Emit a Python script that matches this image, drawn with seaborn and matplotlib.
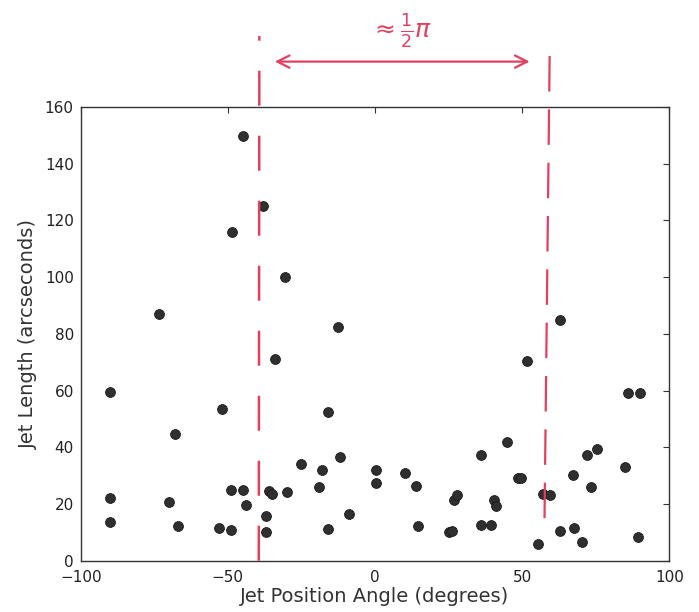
import matplotlib
matplotlib.use("Agg")
import matplotlib.pyplot as plt
import seaborn as sns
import pandas as pd

angle = [-90, -90, -90, -73.5, -70, -68, -67, -53, -52, -49, -49, -48.5,
         -45, -45, -44, -38, -37, -37, -36, -35, -34, -30.5, -30, -25,
         -19, -18, -16, -16, -12.5, -12, -9, 0.5, 0.5, 10.3, 14, 14.5,
         25.3, 26.3, 26.8, 28, 36, 36, 39.5, 40.6, 41.2, 45, 48.5, 49.7,
         51.5, 55.4, 57, 59.5, 62.8, 63, 67.3, 67.7, 70.2, 72, 73.4, 75.3,
         85, 86, 89.2, 90]
length = [59.5, 22.2, 13.5, 87, 20.8, 44.7, 12.1, 11.4, 53.6, 10.8, 25, 116,
          149.6, 24.8, 19.5, 125, 15.8, 10.1, 24.5, 23.4, 71, 100, 24.1, 34.2,
          25.9, 32, 52.3, 11.1, 82.4, 36.5, 16.5, 32, 27.5, 30.8, 26.2, 12.1,
          10.1, 10.4, 21.5, 23.1, 37.2, 12.5, 12.5, 21.5, 19.2, 42, 29.2, 29.2,
          70.5, 5.8, 23.4, 23.2, 10.4, 85, 30.1, 11.6, 6.7, 37.4, 26.1, 39.4,
          33.2, 59, 8.4, 59.2]

x_ticks = [-100, -50, 0, 50, 100]
y_ticks = [0, 20, 40, 60, 80, 100, 120, 140, 160]

df = pd.DataFrame({"angle": angle, "length": length})

sns.set_style("white")
plt.rcParams["font.family"] = ["DejaVu Sans"]

fig = plt.figure(figsize=(6.99, 6.12), dpi=100)
ax = fig.add_axes([0.1155, 0.0838, 0.842, 0.7414])

sns.scatterplot(data=df, x="angle", y="length", ax=ax, s=50,
                color="#2f2f2f", edgecolor="#1a1a1a", linewidth=0.6, zorder=3)

ax.set_xlim(-100, 100)
ax.set_ylim(0, 160)
ax.set_xticks(x_ticks)
ax.set_yticks(y_ticks)
ax.set_xticklabels([f"{t}".replace("-", "\u2212") for t in x_ticks])
ax.tick_params(direction="in", top=True, right=True, length=4, width=0.8,
               labelsize=11, colors="#333333", labelcolor="#222222")
ax.tick_params(axis="x", pad=7)
ax.tick_params(axis="y", pad=5)
for sp in ax.spines.values():
    sp.set_color("#333333")
    sp.set_linewidth(1.0)
ax.set_xlabel("Jet Position Angle (degrees)", fontsize=14, color="#333333", labelpad=1)
ax.set_ylabel("Jet Length (arcseconds)", fontsize=14, color="#333333", labelpad=5)

# hand-drawn annotation in red
red = "#e3405f"
ax.plot([-39.5, -39.3], [0, 185], color=red, lw=1.8, ls=(0, (14, 12)),
        clip_on=False, zorder=4)
ax.plot([57.6, 59.4], [15, 183], color=red, lw=1.6, ls=(0, (16, 8)),
        clip_on=False, zorder=4)
ax.annotate("", xy=(-35, 176), xytext=(53.5, 176),
            arrowprops=dict(arrowstyle="<->", color=red, lw=1.6,
                            mutation_scale=22),
            annotation_clip=False)
ax.text(9, 180, r"$\approx\frac{1}{2}\pi$", color=red, fontsize=18,
        ha="center", va="bottom", clip_on=False)

fig.savefig("out.png", dpi=100)
